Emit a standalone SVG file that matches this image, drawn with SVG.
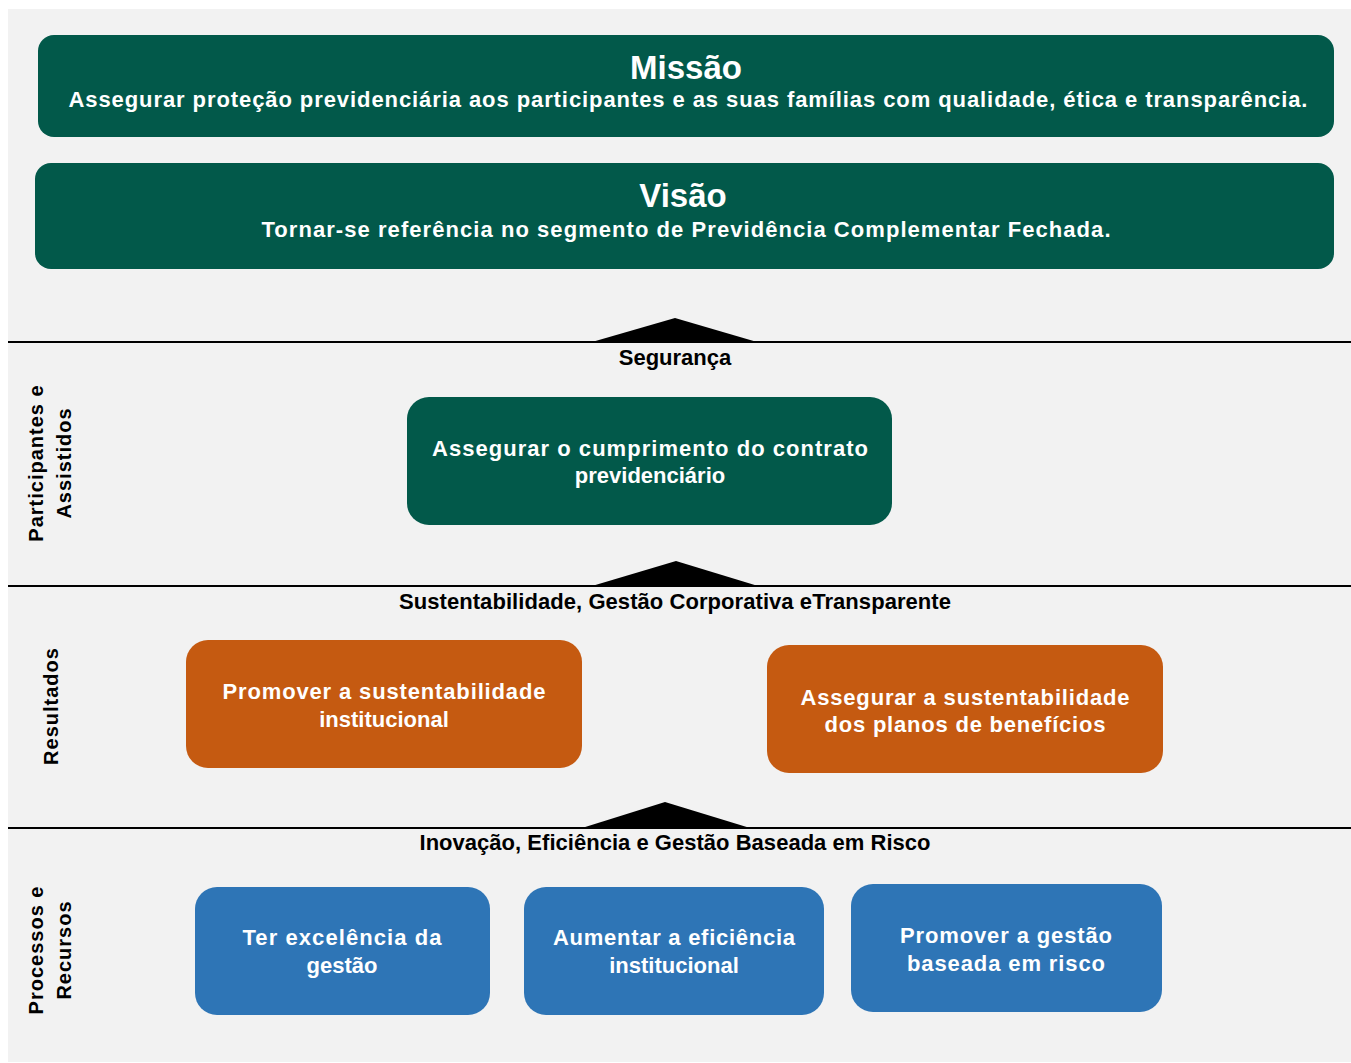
<svg xmlns="http://www.w3.org/2000/svg" width="1351" height="1063" viewBox="0 0 1351 1063">
<style>
.t{font-family:"Liberation Sans",Arial,sans-serif;font-weight:bold;fill:#fff;text-anchor:middle;font-size:22px}
.k{font-family:"Liberation Sans",Arial,sans-serif;font-weight:bold;fill:#000;text-anchor:middle;font-size:22px}
.g{fill:#02594A}
.o{fill:#C55A11}
.b{fill:#2E75B6}
.side{font-family:"Liberation Sans",Arial,sans-serif;font-weight:bold;fill:#000;text-anchor:middle;font-size:20px;letter-spacing:1px}
</style>
<rect x="0" y="0" width="1351" height="1063" fill="#fff"/>
<rect x="8" y="9" width="1343" height="1053" fill="#F2F2F2"/>
<g id="missao">
<rect class="g" x="38" y="35" width="1296" height="102" rx="16"/>
<text class="t" x="686" y="79" style="font-size:33px">Missão</text>
<text class="t" x="688" y="107" textLength="1239" lengthAdjust="spacing">Assegurar proteção previdenciária aos participantes e as suas famílias com qualidade, ética e transparência.</text>
</g>
<g id="visao">
<rect class="g" x="35" y="163" width="1299" height="106" rx="16"/>
<text class="t" x="683" y="207" style="font-size:33px">Visão</text>
<text class="t" x="686" y="237" textLength="849" lengthAdjust="spacing">Tornar-se referência no segmento de Previdência Complementar Fechada.</text>
</g>
<g id="connectors">
<line x1="8" y1="342" x2="1351" y2="342" stroke="#000" stroke-width="2"/>
<line x1="8" y1="586" x2="1351" y2="586" stroke="#000" stroke-width="2"/>
<line x1="8" y1="828" x2="1351" y2="828" stroke="#000" stroke-width="2"/>
<polygon points="592,342 675,318 757,342" fill="#000"/>
<polygon points="592,586 676,561 758,586" fill="#000"/>
<polygon points="582,828 665,802 750,828" fill="#000"/>
</g>
<g id="labels">
<text class="k" x="675" y="365">Segurança</text>
<text class="k" x="675" y="609" textLength="552" lengthAdjust="spacing">Sustentabilidade, Gestão Corporativa eTransparente</text>
<text class="k" x="675" y="850" textLength="511" lengthAdjust="spacing">Inovação, Eficiência e Gestão Baseada em Risco</text>
<text class="side" transform="translate(43,463) rotate(-90)">Participantes e</text>
<text class="side" transform="translate(71,463) rotate(-90)">Assistidos</text>
<text class="side" transform="translate(58,706) rotate(-90)">Resultados</text>
<text class="side" transform="translate(43,950) rotate(-90)">Processos e</text>
<text class="side" transform="translate(71,950) rotate(-90)">Recursos</text>
</g>
<g id="contrato">
<rect class="g" x="407" y="397" width="485" height="128" rx="22"/>
<text class="t" x="650" y="456" textLength="436" lengthAdjust="spacing">Assegurar o cumprimento do contrato</text>
<text class="t" x="650" y="483">previdenciário</text>
</g>
<g id="sust-inst">
<rect class="o" x="186" y="640" width="396" height="128" rx="22"/>
<text class="t" x="384" y="699" textLength="323" lengthAdjust="spacing">Promover a sustentabilidade</text>
<text class="t" x="384" y="727">institucional</text>
</g>
<g id="sust-planos">
<rect class="o" x="767" y="645" width="396" height="128" rx="22"/>
<text class="t" x="965" y="705" textLength="329" lengthAdjust="spacing">Assegurar a sustentabilidade</text>
<text class="t" x="965" y="732" textLength="281" lengthAdjust="spacing">dos planos de benefícios</text>
</g>
<g id="excelencia">
<rect class="b" x="195" y="887" width="295" height="128" rx="22"/>
<text class="t" x="342" y="945" textLength="199" lengthAdjust="spacing">Ter excelência da</text>
<text class="t" x="342" y="973">gestão</text>
</g>
<g id="eficiencia">
<rect class="b" x="524" y="887" width="300" height="128" rx="22"/>
<text class="t" x="674" y="945" textLength="242" lengthAdjust="spacing">Aumentar a eficiência</text>
<text class="t" x="674" y="973">institucional</text>
</g>
<g id="risco">
<rect class="b" x="851" y="884" width="311" height="128" rx="22"/>
<text class="t" x="1006" y="943" textLength="212" lengthAdjust="spacing">Promover a gestão</text>
<text class="t" x="1006" y="971" textLength="198" lengthAdjust="spacing">baseada em risco</text>
</g>
</svg>
